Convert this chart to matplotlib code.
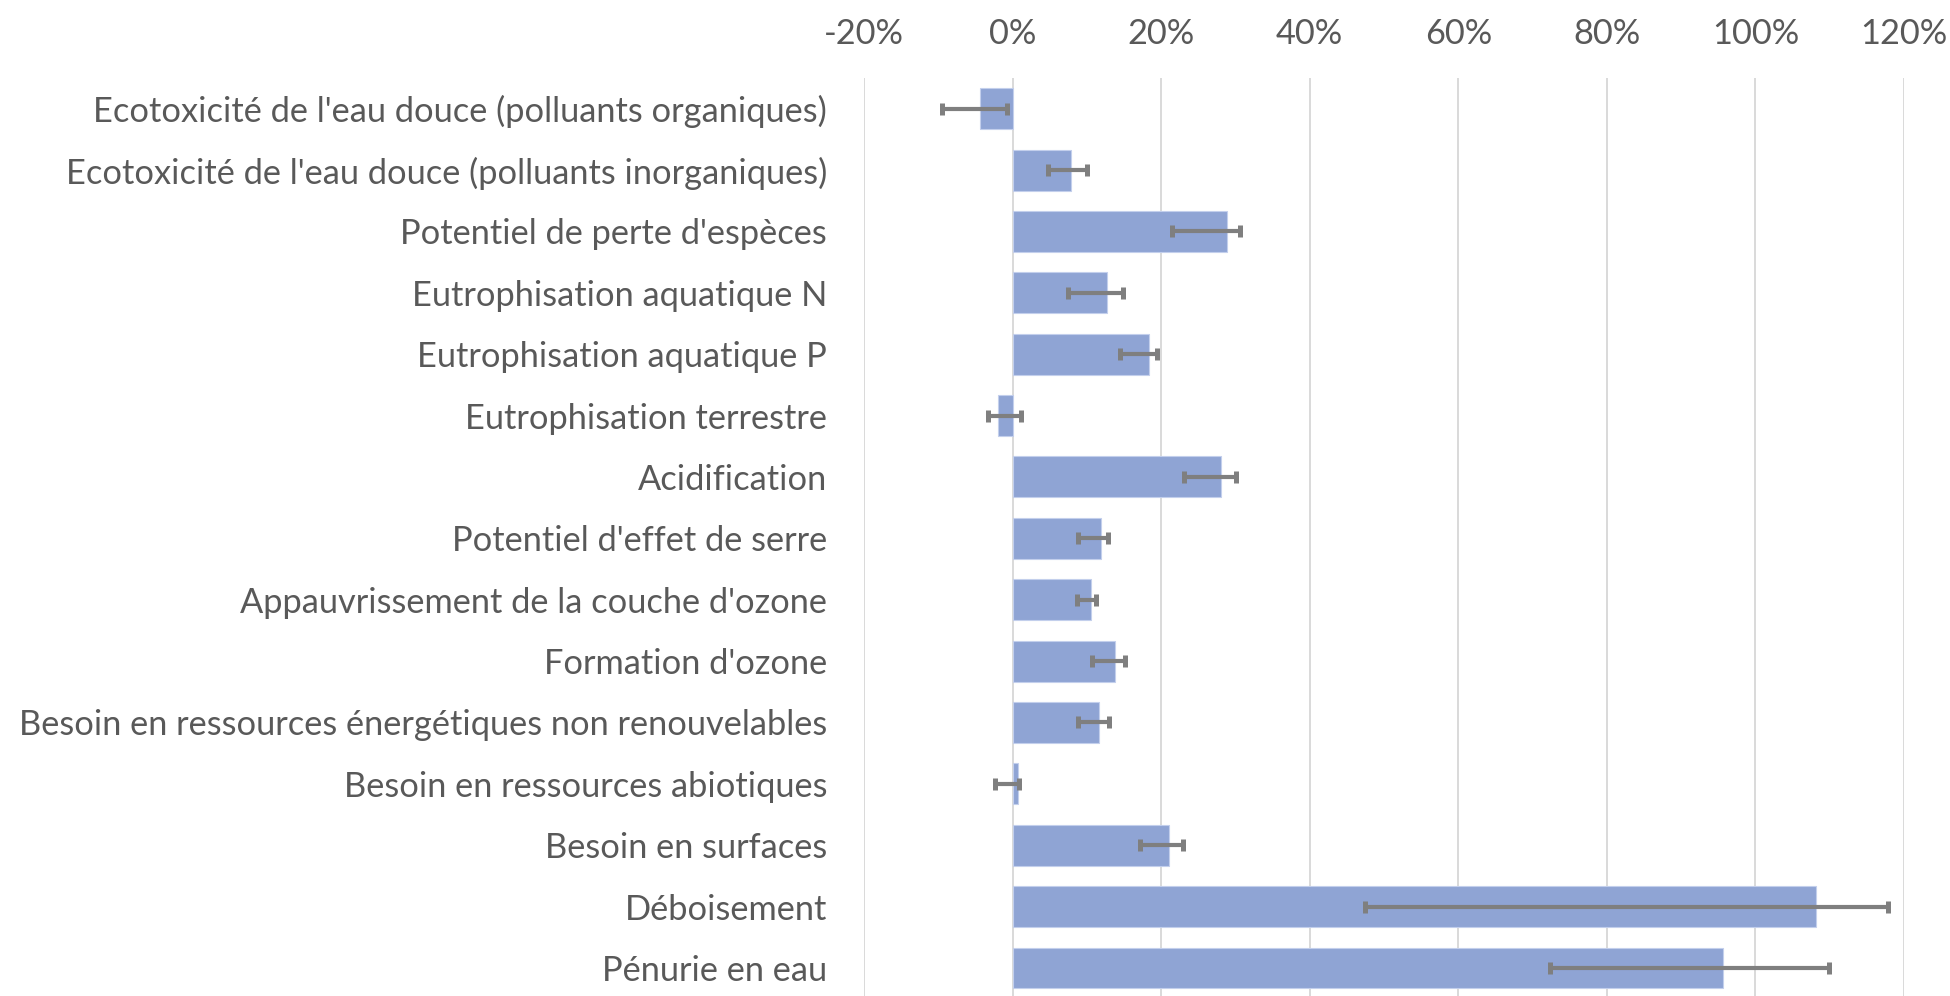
import matplotlib
matplotlib.use("Agg")
import matplotlib.pyplot as plt
import numpy as np
from matplotlib.ticker import FuncFormatter

categories = [
    "Ecotoxicité de l'eau douce (polluants organiques)",
    "Ecotoxicité de l'eau douce (polluants inorganiques)",
    "Potentiel de perte d'espèces",
    "Eutrophisation aquatique N",
    "Eutrophisation aquatique P",
    "Eutrophisation terrestre",
    "Acidification",
    "Potentiel d'effet de serre",
    "Appauvrissement de la couche d'ozone",
    "Formation d'ozone",
    "Besoin en ressources énergétiques non renouvelables",
    "Besoin en ressources abiotiques",
    "Besoin en surfaces",
    "Déboisement",
    "Pénurie en eau",
]
values = [-4.4, 7.8, 28.8, 12.7, 18.3, -1.9, 28.0, 11.9, 10.6, 13.8, 11.6, 0.7, 21.1, 108.2, 95.6]
err_low_bound = [-9.5, 4.8, 21.5, 7.5, 14.4, -3.3, 23.1, 8.8, 8.7, 10.7, 8.8, -2.3, 17.2, 47.4, 72.4]
err_high_bound = [-0.8, 10.0, 30.6, 14.9, 19.4, 1.2, 30.1, 12.8, 11.25, 15.2, 13.0, 0.9, 22.9, 117.8, 109.9]
x_ticks = [-20, 0, 20, 40, 60, 80, 100, 120]

W, H = 1950, 996
fig = plt.figure(figsize=(W / 100, H / 100), dpi=100)
plt.rcParams['font.family'] = ['Lato', 'DejaVu Sans']

left, right = 864 / W, 1904 / W
top = 1 - 78 / H
bottom = 1 - 998.7 / H
ax = fig.add_axes([left, bottom, right - left, top - bottom])

v = np.array(values)
lo = np.array(err_low_bound)
hi = np.array(err_high_bound)
y = np.arange(len(categories))

ax.barh(y, v, height=0.667, color="#8FA4D4", edgecolor="#C3CFEC", linewidth=0.8, zorder=2)
ax.errorbar(v, y, xerr=[v - lo, hi - v], fmt="none", ecolor="#7F7F7F",
            elinewidth=3.0, capsize=4.0, capthick=3.6, zorder=3)

ax.set_xlim(-20, 120)
ax.set_ylim(len(categories) - 0.5, -0.5)
ax.set_xticks(x_ticks)
ax.xaxis.set_major_formatter(FuncFormatter(lambda x, p: f"{int(round(x))}%"))
ax.set_yticks(y)
ax.set_yticklabels(categories)
ax.xaxis.tick_top()
ax.grid(axis="x", color="#D9D9D9", linewidth=1.4, zorder=0)
ax.set_axisbelow(True)
for s in ax.spines.values():
    s.set_visible(False)

fs = 20
ax.tick_params(axis="both", length=0, labelsize=fs, colors="#595959")
ax.tick_params(axis="y", pad=26.6)
ax.tick_params(axis="x", pad=20)

# scale font so that the longest label matches the reference width
fig.canvas.draw()
r = fig.canvas.get_renderer()
lab = ax.get_yticklabels()[10]
wpx = lab.get_window_extent(r).width
fs = fs * 812 / wpx
ax.tick_params(axis="both", labelsize=fs)

fig.savefig("out.png", dpi=100, facecolor="white")
